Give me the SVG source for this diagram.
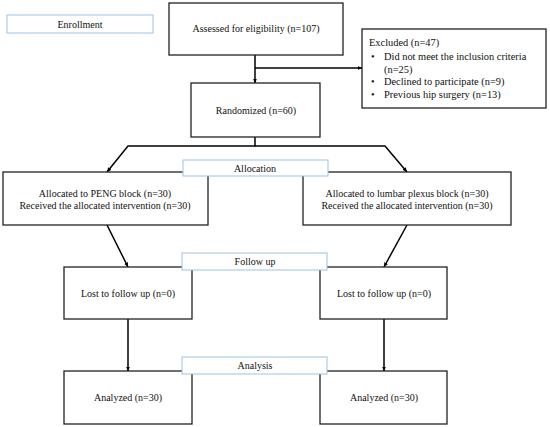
<svg xmlns="http://www.w3.org/2000/svg" width="550" height="427" viewBox="0 0 550 427">
<style>
.box{fill:#fff;stroke:#222;stroke-width:1.3}
.lbl{fill:#fff;stroke:#9dc3e6;stroke-width:1}
.t{font-family:"Liberation Serif","Times New Roman",serif;font-size:10px;fill:#111}
.x{font-size:10.4px}
.c{text-anchor:middle}
.ln{fill:none;stroke:#000;stroke-width:1.5}
</style>
<defs>
<marker id="ah" viewBox="0 0 10 10" refX="9" refY="5" markerWidth="5" markerHeight="5" orient="auto" markerUnits="userSpaceOnUse">
<path d="M0,1 L10,5 L0,9 Z" fill="#000"/>
</marker>
</defs>
<rect width="550" height="427" fill="#fff"/>
<g id="connectors">
<line class="ln" x1="255" y1="55" x2="255" y2="83" marker-end="url(#ah)"/>
<line class="ln" x1="255" y1="68" x2="362" y2="68" marker-end="url(#ah)"/>
<polyline class="ln" points="255,137 255,146 128,146 107,172" marker-end="url(#ah)"/>
<polyline class="ln" points="255,146 385,146 407,172" marker-end="url(#ah)"/>
<line class="ln" x1="107" y1="225" x2="128" y2="267" marker-end="url(#ah)"/>
<line class="ln" x1="407" y1="225" x2="384" y2="267" marker-end="url(#ah)"/>
<line class="ln" x1="128" y1="319" x2="128" y2="371" marker-end="url(#ah)"/>
<line class="ln" x1="384" y1="319" x2="384" y2="371" marker-end="url(#ah)"/>
</g>
<g id="enrollment"><rect class="lbl" x="7" y="15" width="146" height="18"/><text class="t c" x="80" y="27.5">Enrollment</text></g>
<g id="assessed"><rect class="box" x="169" y="3" width="174" height="52"/><text class="t c" x="256" y="32">Assessed for eligibility (n=107)</text></g>
<g id="excluded"><rect class="box" x="362" y="29" width="184" height="79"/>
<text class="t x" x="369" y="46">Excluded (n=47)</text>
<text class="t x" x="371" y="60">•</text><text class="t x" x="384" y="60">Did not meet the inclusion criteria</text>
<text class="t x" x="384" y="73">(n=25)</text>
<text class="t x" x="371" y="85">•</text><text class="t x" x="384" y="85">Declined to participate (n=9)</text>
<text class="t x" x="371" y="98">•</text><text class="t x" x="384" y="98">Previous hip surgery (n=13)</text>
</g>
<g id="randomized"><rect class="box" x="191" y="83" width="129" height="54"/><text class="t c" x="256" y="114">Randomized (n=60)</text></g>
<g id="alloc-left"><rect class="box" x="3" y="172" width="205" height="53"/><text class="t c" x="105" y="197">Allocated to PENG block (n=30)</text><text class="t c" x="105" y="209">Received the allocated intervention (n=30)</text></g>
<g id="alloc-right"><rect class="box" x="303" y="172" width="208" height="53"/><text class="t c" x="407" y="197">Allocated to lumbar plexus block (n=30)</text><text class="t c" x="407" y="209">Received the allocated intervention (n=30)</text></g>
<g id="allocation"><rect class="lbl" x="183" y="160" width="145" height="16"/><text class="t c" x="255" y="171.5">Allocation</text></g>
<g id="lost-left"><rect class="box" x="64" y="267" width="128" height="52"/><text class="t c" x="128" y="297">Lost to follow up (n=0)</text></g>
<g id="lost-right"><rect class="box" x="320" y="267" width="127" height="52"/><text class="t c" x="384" y="297">Lost to follow up (n=0)</text></g>
<g id="followup"><rect class="lbl" x="182" y="253" width="145" height="17"/><text class="t c" x="255" y="265">Follow up</text></g>
<g id="analyzed-left"><rect class="box" x="64" y="371" width="128" height="53"/><text class="t c" x="128" y="401">Analyzed (n=30)</text></g>
<g id="analyzed-right"><rect class="box" x="320" y="371" width="127" height="53"/><text class="t c" x="384" y="401">Analyzed (n=30)</text></g>
<g id="analysis"><rect class="lbl" x="182" y="357" width="145" height="17"/><text class="t c" x="255" y="369">Analysis</text></g>
</svg>
